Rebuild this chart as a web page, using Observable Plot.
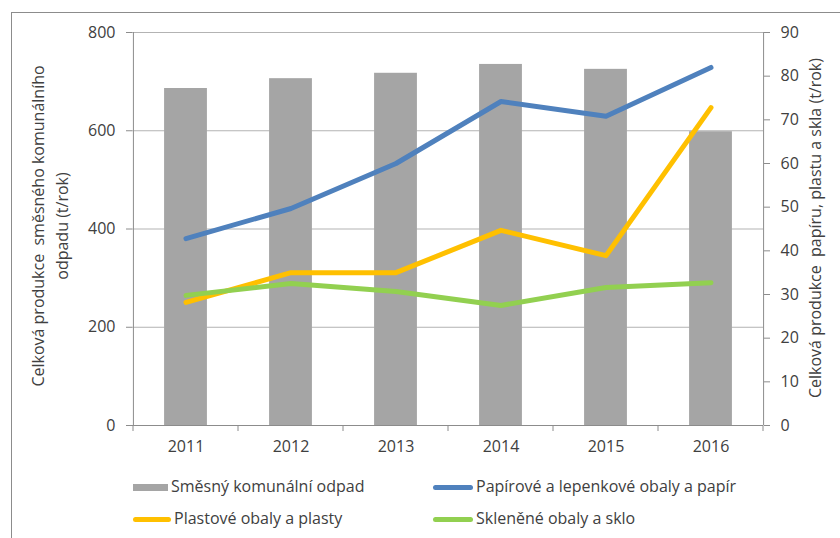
<!DOCTYPE html>
<html><head><meta charset="utf-8">
<script src="https://cdn.jsdelivr.net/npm/d3@7"></script>
<script src="https://cdn.jsdelivr.net/npm/@observablehq/plot@0.6"></script>
<style>
body{margin:0;background:#fff;font-family:"Open Sans",sans-serif;color:#404040;}
#wrap{position:relative;width:840px;height:538px;overflow:hidden;background:#fff;}
#frame{position:absolute;left:11px;top:12px;width:900px;height:600px;border-left:1px solid #8c8c8c;border-top:1px solid #8c8c8c;}
#chart{position:absolute;left:0;top:0;}
.title{position:absolute;text-align:center;font-size:16px;line-height:24px;transform:rotate(-90deg);white-space:pre;}
.leg{position:absolute;font-size:16px;line-height:20px;white-space:nowrap;}
.sw{position:absolute;}
</style></head>
<body><div id="wrap"><div id="frame"></div><div id="chart"></div></div>
<script>
const years = ["2011", "2012", "2013", "2014", "2015", "2016"];
const mixedWaste = [686, 706, 717, 735, 725, 598];      // left axis, t/rok
const paper = [42.8, 49.7, 60.0, 74.2, 70.8, 82.0];      // right axis, t/rok
const plastic = [28.2, 35.0, 35.0, 44.7, 38.9, 72.8];
const glass = [29.8, 32.5, 30.7, 27.5, 31.6, 32.7];
const leftTicks = [0, 200, 400, 600, 800];
const rightTicks = [0, 10, 20, 30, 40, 50, 60, 70, 80, 90];
const seriesNames = ["Směsný komunální odpad", "Papírové a lepenkové obaly a papír", "Plastové obaly a plasty", "Skleněné obaly a sklo"];
const seriesColors = ["#a5a5a5", "#4f81bd", "#ffc000", "#92d050"];
const leftTitle = ["Celková produkce  směsného komunálního", "odpadu (t/rok)"];
const rightTitle = "Celková produkce  papíru, plastu a skla (t/rok)";

const k = 800 / 90;
const bars = years.map((y, i) => ({year: y, value: mixedWaste[i]}));
const lineData = (arr) => years.map((y, i) => ({year: y, value: arr[i] * k}));

const W = 840, H = 460, mL = 132, mR = 77, mT = 32, mB = 35;
const step = (W - mL - mR) / years.length;
const barW = 43;
const inset = (step - barW) / 2;

const tickMarks = (index, scales, values, dims) => {
  const x = scales.x, yb = dims.height - dims.marginBottom;
  const st = x.step ? x.step() : step;
  const g = d3.create("svg:g").attr("stroke", "#8c8c8c").attr("stroke-width", 1);
  const xs = years.map(y => x(y)).concat([x(years[years.length - 1]) + st]);
  xs.forEach(px => g.append("line").attr("x1", px).attr("x2", px).attr("y1", yb).attr("y2", yb + 6));
  return g.node();
};

const lineOpts = (c) => ({x: "year", y: "value", stroke: c, strokeWidth: 5, strokeLinecap: "round", strokeLinejoin: "round"});

const chart = Plot.plot({
  width: W, height: H,
  marginLeft: mL, marginRight: mR, marginTop: mT, marginBottom: mB,
  style: {fontFamily: "'Open Sans', sans-serif", fontSize: "16px", color: "#404040", background: "transparent"},
  x: {type: "band", domain: years, padding: 0},
  y: {domain: [0, 800]},
  marks: [
    Plot.ruleY(leftTicks.filter(t => t > 0), {stroke: "#b3b3b3", strokeWidth: 1}),
    Plot.barY(bars, {x: "year", y: "value", fill: seriesColors[0], insetLeft: inset, insetRight: inset}),
    Plot.line(lineData(paper), lineOpts(seriesColors[1])),
    Plot.line(lineData(plastic), lineOpts(seriesColors[2])),
    Plot.line(lineData(glass), lineOpts(seriesColors[3])),
    Plot.ruleX([years[0]], {stroke: "#8c8c8c", dx: -step / 2, y1: 0, y2: 800}),
    Plot.ruleX([years[years.length - 1]], {stroke: "#8c8c8c", dx: step / 2, y1: 0, y2: 800}),
    Plot.ruleY([0], {stroke: "#8c8c8c"}),
    tickMarks,
    Plot.axisY({ticks: leftTicks, tickSize: 6, tickPadding: 11, label: null, stroke: "#8c8c8c", fill: "#404040"}),
    Plot.axisY({anchor: "right", ticks: rightTicks.map(v => v * k), tickFormat: d => String(Math.round(d / k)), tickSize: 6, tickPadding: 11, label: null, stroke: "#8c8c8c", fill: "#404040"}),
    Plot.axisX({tickSize: 0, tickPadding: 15, label: null, fill: "#404040"})
  ]
});
document.getElementById("chart").appendChild(chart);

const wrap = document.getElementById("wrap");
function addTitle(text, cx, cy, w, h) {
  const d = document.createElement("div");
  d.className = "title";
  d.textContent = text;
  d.style.width = w + "px"; d.style.height = h + "px";
  d.style.left = (cx - w / 2) + "px"; d.style.top = (cy - h / 2) + "px";
  wrap.appendChild(d);
}
addTitle(leftTitle.join("\n"), 50, 226, 420, 48);
addTitle(rightTitle, 815, 228, 420, 24);

const legPos = [[133, 487, 35, 7, false], [433, 487, 40, 5, true], [133, 519, 38, 5, true], [433, 519, 40, 5, true]];
seriesNames.forEach((name, i) => {
  const [x, y, sw, sh, round] = legPos[i];
  const s = document.createElement("div");
  s.className = "sw";
  s.style.left = x + "px"; s.style.top = (y - sh / 2) + "px";
  s.style.width = sw + "px"; s.style.height = sh + "px";
  s.style.background = seriesColors[i];
  if (round) s.style.borderRadius = "3px";
  wrap.appendChild(s);
  const t = document.createElement("div");
  t.className = "leg";
  t.textContent = name;
  t.style.left = (x + sw + 3) + "px"; t.style.top = (y - 11) + "px";
  wrap.appendChild(t);
});
</script></body></html>
